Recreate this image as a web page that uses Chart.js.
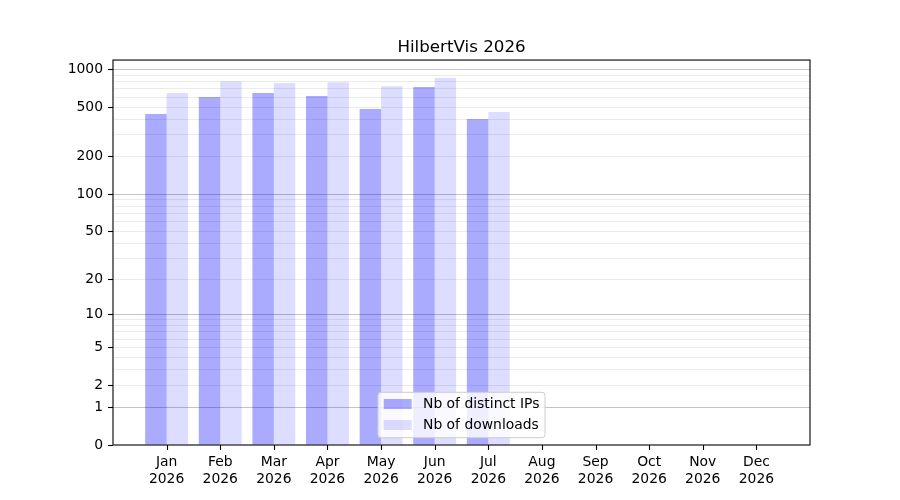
<!DOCTYPE html>
<html>
<head>
<meta charset="utf-8">
<script src="https://cdn.jsdelivr.net/npm/chart.js@4/dist/chart.umd.min.js"></script>
<style>
  html, body { margin: 0; padding: 0; background: #fff; }
  canvas { display: block; }
</style>
</head>
<body>
<canvas id="chart" width="900" height="500"></canvas>
<script>
// data
const months = ["Jan", "Feb", "Mar", "Apr", "May", "Jun", "Jul", "Aug", "Sep", "Oct", "Nov", "Dec"];
const year = "2026";
const distinctIps = [441, 602, 648, 613, 482, 723, 401];
const downloads = [648, 807, 778, 792, 736, 853, 456];
const yTickLabels = [0, 1, 2, 5, 10, 20, 50, 100, 200, 500, 1000];
const yMajorGrid = [1, 10, 100, 1000];

// gridlines at every 1..9 x 10^n step
const yGridValues = [0];
[1, 10, 100].forEach(d => {
  for (let k = 1; k <= 9; k++) yGridValues.push(k * d);
});
yGridValues.push(1000);

Chart.defaults.font.family = "'DejaVu Sans', sans-serif";
Chart.defaults.font.size = 13.9;
Chart.defaults.color = '#000';

// log10(1 + x) scale, like the symlog look of the original
class Log1pScale extends Chart.LinearScale {
  buildTicks() {
    return yGridValues.map(v => ({ value: v }));
  }
  configure() {
    super.configure();
    this._lo = Math.log10(1 + this.min);
    this._hi = Math.log10(1 + this.max);
  }
  getPixelForValue(value) {
    return this.getPixelForDecimal((Math.log10(1 + value) - this._lo) / (this._hi - this._lo));
  }
  getValueForPixel(pixel) {
    const d = this.getDecimalForPixel(pixel);
    return Math.pow(10, this._lo + d * (this._hi - this._lo)) - 1;
  }
}
Log1pScale.id = 'log1p';
Log1pScale.defaults = Chart.LinearScale.defaults;
Chart.register(Log1pScale);

// black box round the plot + tick marks under the x axis
const framePlugin = {
  id: 'frame',
  afterDatasetsDraw(chart) {
    const a = chart.chartArea;
    const ctx = chart.ctx;
    const xs = chart.scales.x;
    ctx.save();
    ctx.strokeStyle = '#000';
    ctx.lineWidth = 1.1;
    ctx.strokeRect(a.left, a.top, a.right - a.left, a.bottom - a.top);
    ctx.beginPath();
    xs.ticks.forEach(t => {
      const px = Math.round(xs.getPixelForValue(t.value)) + 0.5;
      ctx.moveTo(px, a.bottom);
      ctx.lineTo(px, a.bottom + 5);
    });
    ctx.stroke();
    ctx.restore();
  }
};

// legend in the lower middle of the plot
const boxLegend = {
  id: 'boxLegend',
  afterDraw(chart) {
    const ctx = chart.ctx;
    const a = chart.chartArea;
    const sets = chart.data.datasets;
    ctx.save();
    ctx.font = "13.9px 'DejaVu Sans', sans-serif";
    let textW = 0;
    sets.forEach(s => { textW = Math.max(textW, ctx.measureText(s.label).width); });
    const w = 5.7 + 28 + 11.3 + textW + 5.6;
    const h = 45.4;
    const x = (a.left + a.right) / 2 - w / 2;
    const y = a.bottom - 7.3 - h;

    ctx.beginPath();
    ctx.roundRect(x, y, w, h, 3);
    ctx.fillStyle = 'rgba(255,255,255,0.8)';
    ctx.fill();
    ctx.strokeStyle = '#cccccc';
    ctx.lineWidth = 1;
    ctx.stroke();

    sets.forEach((s, i) => {
      const cy = y + 11.7 + i * 21;
      ctx.fillStyle = s.backgroundColor;
      ctx.fillRect(x + 5.7, cy - 5, 28, 10);
      ctx.fillStyle = '#000';
      ctx.textBaseline = 'middle';
      ctx.textAlign = 'left';
      ctx.fillText(s.label, x + 5.7 + 28 + 11.3, cy);
    });
    ctx.restore();
  }
};

new Chart(document.getElementById('chart'), {
  type: 'bar',
  data: {
    datasets: [{
      label: 'Nb of distinct IPs',
      data: distinctIps.map((v, i) => ({ x: i, y: v })),
      backgroundColor: 'rgba(0,0,255,0.333)',
      borderWidth: 0
    }, {
      label: 'Nb of downloads',
      data: downloads.map((v, i) => ({ x: i, y: v })),
      backgroundColor: 'rgba(0,0,255,0.133)',
      borderWidth: 0
    }]
  },
  options: {
    responsive: false,
    animation: false,
    devicePixelRatio: 1,
    layout: { padding: { left: 0, right: 90, top: 0, bottom: 0 } },
    datasets: {
      bar: { categoryPercentage: 0.8, barPercentage: 1.0 }
    },
    scales: {
      x: {
        type: 'linear',
        min: -1,
        max: 12,
        offset: false,
        afterBuildTicks: scale => {
          scale.ticks = months.map((m, i) => ({ value: i }));
        },
        afterFit: scale => { scale.height = 55; },
        grid: {
          offset: false,
          drawOnChartArea: false,
          drawTicks: true,
          tickLength: 5,
          tickColor: 'rgba(0,0,0,0)'
        },
        border: { display: false },
        ticks: {
          autoSkip: false,
          maxRotation: 0,
          padding: 4,
          color: '#000',
          callback: v => [months[v], year]
        }
      },
      y: {
        type: 'log1p',
        min: 0,
        max: 1190,
        afterFit: scale => { scale.width = 113; },
        grid: {
          drawTicks: true,
          tickLength: 5,
          tickWidth: 1.1,
          lineWidth: 1,
          color: ctx => {
            const v = ctx.tick.value;
            if (v === 0) return 'rgba(0,0,0,0)';
            return yMajorGrid.includes(v) ? '#c4c4c4' : '#ebebeb';
          },
          tickColor: ctx => yTickLabels.includes(ctx.tick.value) ? '#000' : 'rgba(0,0,0,0)'
        },
        border: { display: false },
        ticks: {
          autoSkip: false,
          padding: 5,
          color: '#000',
          callback: v => yTickLabels.includes(v) ? String(v) : ''
        }
      }
    },
    plugins: {
      legend: { display: false },
      tooltip: { enabled: false },
      title: {
        display: true,
        text: 'HilbertVis ' + year,
        fullSize: false,
        color: '#000',
        font: { size: 16.7, weight: 'normal' },
        padding: { top: 38, bottom: 2 }
      }
    }
  },
  plugins: [framePlugin, boxLegend]
});
</script>
</body>
</html>
